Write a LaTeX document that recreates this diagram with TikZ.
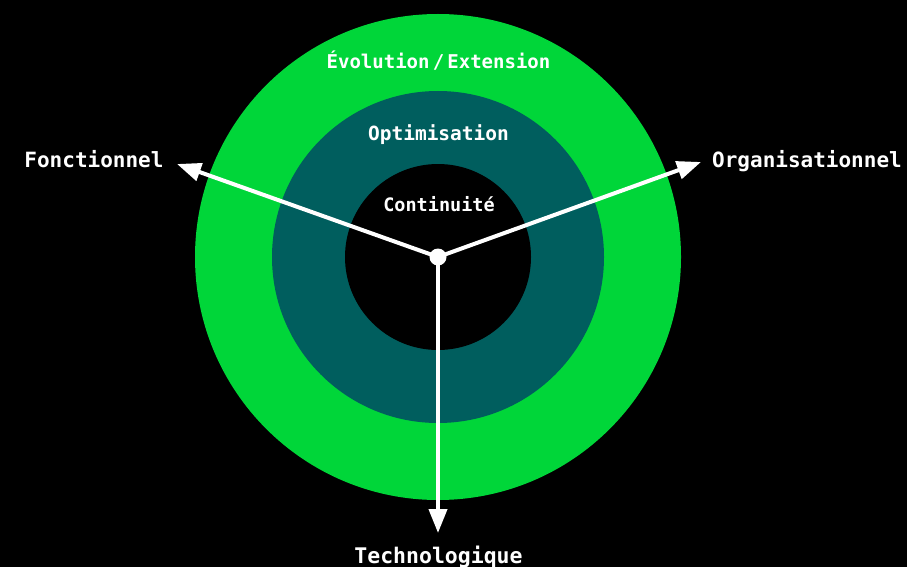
\documentclass[tikz,border=0pt]{standalone}
\usepackage{fontspec}
\setmainfont{DejaVu Sans Mono}
\usetikzlibrary{arrows.meta}
\definecolor{ringgreen}{RGB}{0,214,57}
\definecolor{ringteal}{RGB}{0,94,94}
\tikzset{
  lbl/.style={anchor=base, inner sep=0pt, text=white, font=\bfseries\fontsize{#1}{#1}\selectfont},
  axis/.style={draw=white, line width=4pt, -{Triangle[length=24pt,width=18pt]}},
}
\begin{document}
\begin{tikzpicture}[x=1pt,y=-1pt]
  \fill[black] (0,0) rectangle (907,567);
  \useasboundingbox (0,0) rectangle (907,567);
  \coordinate (c) at (438,257);
  \fill[ringgreen] (c) circle[radius=243];
  \fill[ringteal] (c) circle[radius=166];
  \fill[black] (c) circle[radius=93];
  \node[lbl=19] (evo) at (438.5,69) {Évolution\,/\,Extension};
  \node[lbl=19.5] (opt) at (438.5,140) {Optimisation};
  \node[lbl=18.5] (cont) at (439,211) {Continuité};
  \coordinate (fe) at (177,164);
  \coordinate (oe) at (701,162);
  \coordinate (te) at (438,533);
  \draw[axis] (c) -- (fe);
  \draw[axis] (c) -- (oe);
  \draw[axis] (c) -- (te);
  \fill[white] (c) circle[radius=8.5];
  \node[lbl=21] (fonc) at (94,167) {Fonctionnel};
  \node[lbl=21] (org) at (807,167) {Organisationnel};
  \node[lbl=21.5] (tech) at (438.5,563) {Technologique};
\end{tikzpicture}
\end{document}
